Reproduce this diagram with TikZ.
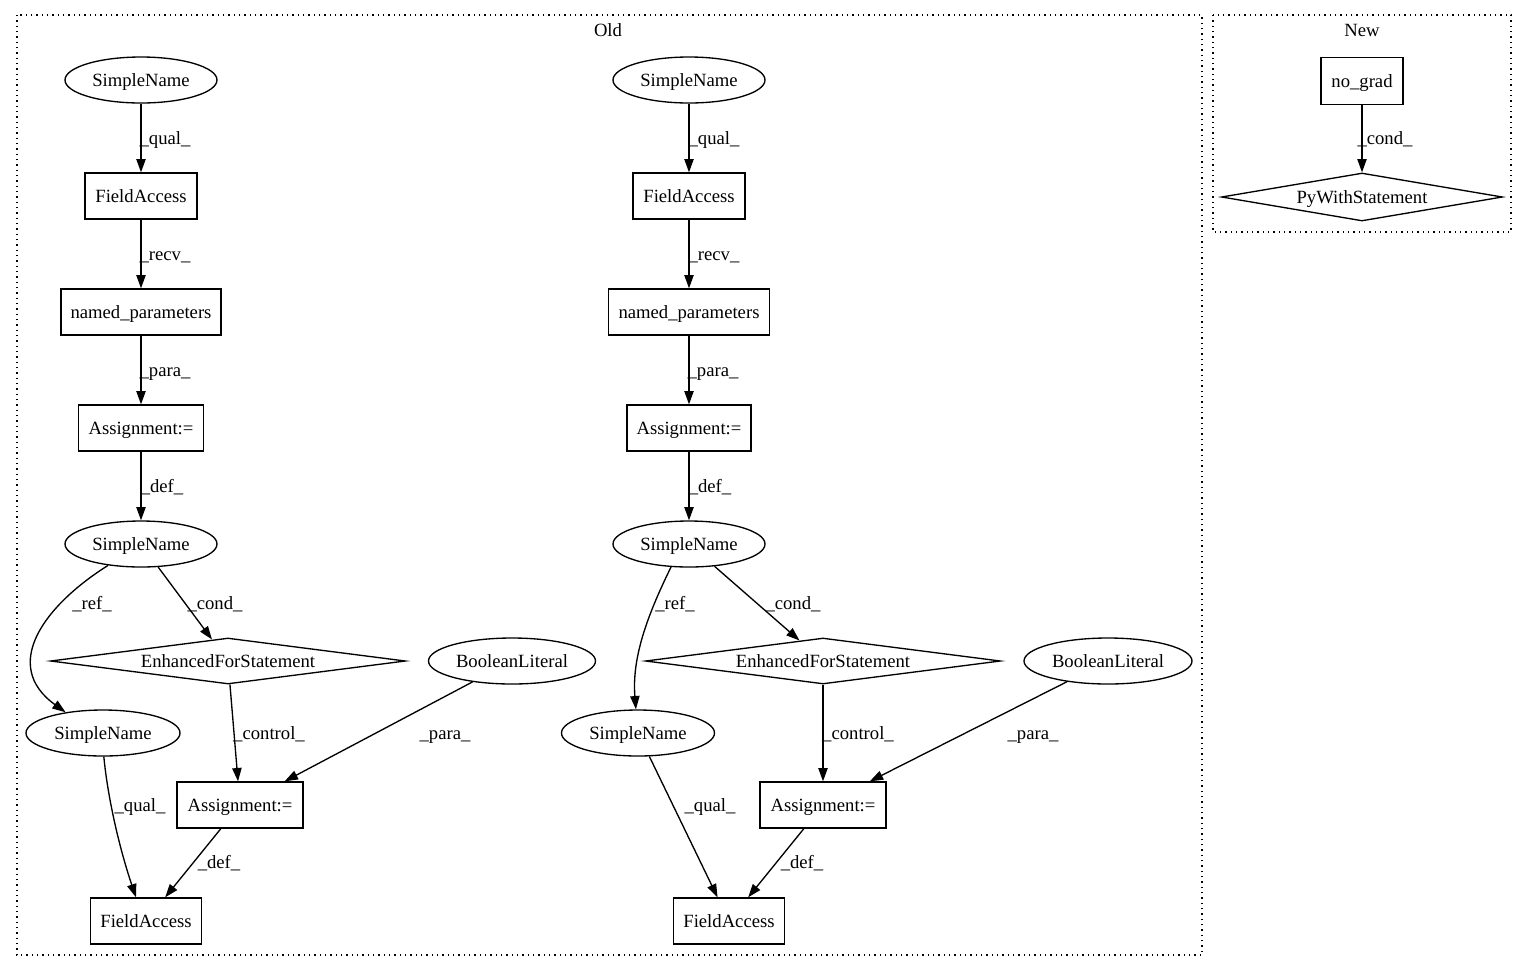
\documentclass[tikz,border=0pt]{standalone}
\usepackage{fontspec}
\setmainfont{Liberation Serif}
\usetikzlibrary{shapes.geometric,arrows.meta,calc}
\begin{document}
\begin{tikzpicture}[x=0.75pt,y=-0.75pt,
  every node/.style={font=\fontsize{14}{16}\selectfont, inner sep=0pt, text height=9.5pt, text depth=0pt},
  box/.style={draw, line width=1pt, rectangle, minimum height=34.5pt},
  ell/.style={draw, line width=1pt, ellipse, minimum height=34.5pt},
  dia/.style={draw, line width=1pt, diamond, aspect=7},
  edge/.style={line width=1pt, -{Triangle[length=10pt,width=7pt]}},
  cluster/.style={line width=1pt, dash pattern=on 1pt off 3pt}]
\useasboundingbox (0,0) rectangle (1528,972);

% clusters
\draw[cluster] (17,15) rectangle (1202,955);
\draw[cluster] (1213,15) rectangle (1511,232);
\node (oldlbl) at (608,30) {Old};
\node (newlbl) at (1362,30) {New};

% left column
\node[ell, minimum width=114pt] (sn1) at (141,80) {SimpleName};
\node[box, minimum width=84pt] (fa1) at (141,196) {FieldAccess};
\node[box, minimum width=120pt] (np1) at (141,312) {named\_parameters};
\node[box, minimum width=93.75pt] (as1) at (141,428) {Assignment:=};
\node[ell, minimum width=114pt] (sn2) at (141,544) {SimpleName};
\node[dia, minimum width=266.25pt, minimum height=34.5pt] (efs1) at (228,661) {EnhancedForStatement};
\node[ell, minimum width=125.25pt] (bl1) at (512,661) {BooleanLiteral};
\node[ell, minimum width=115.5pt] (sn3) at (103,733) {SimpleName};
\node[box, minimum width=94.5pt] (as2) at (240,805) {Assignment:=};
\node[box, minimum width=83.25pt] (fa2) at (146,921) {FieldAccess};

\draw[edge] (sn1) -- (fa1);
\draw[edge] (fa1) -- (np1);
\draw[edge] (np1) -- (as1);
\draw[edge] (as1) -- (sn2);
\draw[edge] (sn2.213) .. controls (45,605) and (0,665) .. (sn3.151);
\draw[edge] (sn2) -- (efs1);
\draw[edge] (efs1) -- (as2);
\draw[edge] (bl1) -- (as2);
\draw[edge] (sn3.272) .. controls (108,800) and (120,850) .. ($(fa2.north)+(-10,0)$);
\draw[edge] (as2) -- (fa2);

\node (la1) at (165,138) {\_qual\_};
\node (la2) at (165,254) {\_recv\_};
\node (la3) at (165,370) {\_para\_};
\node (la4) at (162,486) {\_def\_};
\node (la5) at (92,603) {\_ref\_};
\node (la6) at (215,603) {\_cond\_};
\node (la7) at (269,733) {\_control\_};
\node (la8) at (445,733) {\_para\_};
\node (la9) at (140,805) {\_qual\_};
\node (la10) at (219,862) {\_def\_};

% right column
\node[ell, minimum width=114pt] (sn1r) at (689,80) {SimpleName};
\node[box, minimum width=84pt] (fa1r) at (689,196) {FieldAccess};
\node[box, minimum width=120.75pt] (np1r) at (689,312) {named\_parameters};
\node[box, minimum width=93pt] (as1r) at (689,428) {Assignment:=};
\node[ell, minimum width=114pt] (sn2r) at (689,544) {SimpleName};
\node[dia, minimum width=266.25pt, minimum height=34.5pt] (efs1r) at (823,661) {EnhancedForStatement};
\node[ell, minimum width=126pt] (bl1r) at (1108,661) {BooleanLiteral};
\node[ell, minimum width=114.75pt] (sn3r) at (638,733) {SimpleName};
\node[box, minimum width=94.5pt] (as2r) at (823,805) {Assignment:=};
\node[box, minimum width=83.25pt] (fa2r) at (729,921) {FieldAccess};

\draw[edge] (sn1r) -- (fa1r);
\draw[edge] (fa1r) -- (np1r);
\draw[edge] (np1r) -- (as1r);
\draw[edge] (as1r) -- (sn2r);
\draw[edge] (sn2r.232) .. controls (645,620) and (632,660) .. (sn3r.95);
\draw[edge] (sn2r) -- (efs1r);
\draw[edge] (efs1r) -- (as2r);
\draw[edge] (bl1r) -- (as2r);
\draw[edge] (sn3r) -- (fa2r);
\draw[edge] (as2r) -- (fa2r);

\node (lb1) at (714,138) {\_qual\_};
\node (lb2) at (714,254) {\_recv\_};
\node (lb3) at (713,370) {\_para\_};
\node (lb4) at (710,486) {\_def\_};
\node (lb5) at (675,603) {\_ref\_};
\node (lb6) at (793,603) {\_cond\_};
\node (lb7) at (858,733) {\_control\_};
\node (lb8) at (1033,733) {\_para\_};
\node (lb9) at (710,805) {\_qual\_};
\node (lb10) at (802,862) {\_def\_};

% new cluster
\node[box, minimum width=61.5pt, minimum height=35pt] (ng) at (1362,81) {no\_grad};
\node[dia, minimum width=210.75pt, minimum height=36pt] (pws) at (1362,197) {PyWithStatement};
\draw[edge] (ng) -- (pws);
\node (lc1) at (1385,138) {\_cond\_};
\end{tikzpicture}
\end{document}
